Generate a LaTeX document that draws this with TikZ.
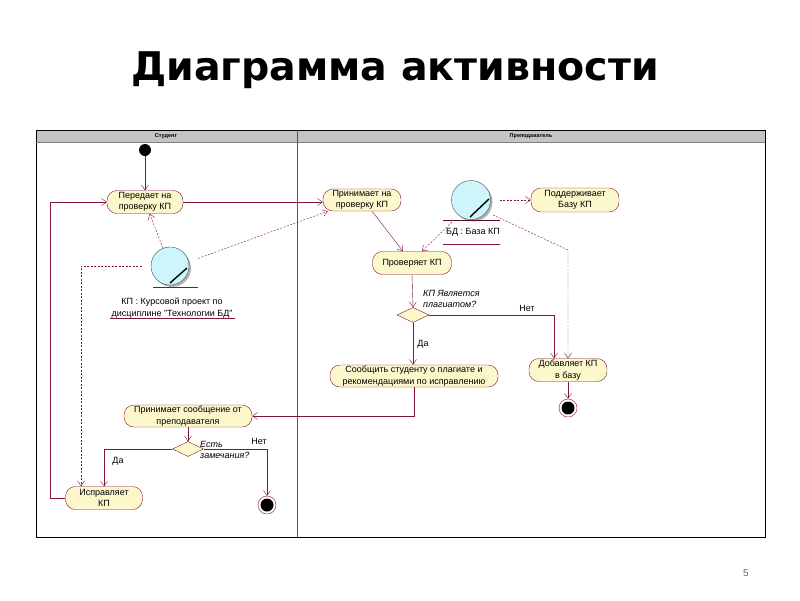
\documentclass[tikz,border=0pt]{standalone}
\usepackage{fontspec}
\setmainfont{Liberation Sans}
\newfontfamily\titlefont{DejaVu Sans}
\usetikzlibrary{arrows.meta,shapes.geometric,calc}
\definecolor{lc}{RGB}{128,20,60}
\definecolor{actfill}{RGB}{252,248,204}
\definecolor{objfill}{RGB}{204,246,250}
\definecolor{hdr}{RGB}{196,196,196}
\tikzset{
  arr/.style={draw=lc, -{Straight Barb[length=5pt,width=7pt]}},
  dasharr/.style={draw=lc, dash pattern=on 2pt off 1.5pt, -{Straight Barb[length=5pt,width=7pt]}},
  act/.style={draw=lc, fill=actfill, rounded corners=10pt, align=center, inner sep=1pt,
    font=\fontsize{9}{11.5}\selectfont, minimum height=23pt},
  dec/.style={diamond, draw=lc, fill=actfill, inner sep=0pt, minimum width=32pt, minimum height=15pt},
  startst/.style={circle, fill=black, inner sep=0pt, minimum size=12pt},
  endst/.style={circle, draw=lc, fill=white, inner sep=0pt, minimum size=18pt,
    path picture={\fill[black] (path picture bounding box.center) circle (6.5pt);}},
  lbl/.style={font=\fontsize{9}{11}\selectfont, inner sep=0pt},
  qlbl/.style={font=\fontsize{9}{11}\selectfont\itshape, inner sep=0pt, align=left, anchor=north west},
}
\begin{document}
\begin{tikzpicture}[x=1pt,y=-1pt]
\useasboundingbox (0,0) rectangle (800,600);
% title
\node[font=\titlefont\bfseries\fontsize{39.5}{44}\selectfont] (title) at (395,70) {Диаграмма активности};
\node[font=\fontsize{10}{12}\selectfont, text=black!60] (pagenum) at (746,573) {5};
% frame
\fill[hdr] (36,130) rectangle (765,142);
\draw[black, line width=0.8pt] (36,130) rectangle (765,537);
\draw[gray] (36,142) -- (765,142);
\draw[lc!60!gray] (297,130) -- (297,537);
\node[font=\bfseries\fontsize{5.5}{6}\selectfont] (hs) at (166,136) {Студент};
\node[font=\bfseries\fontsize{5.5}{6}\selectfont] (ht) at (531,136) {Преподаватель};

% activity nodes
\node[startst] (start) at (145,150) {};
\node[act, minimum width=76pt] (pass) at (145,202) {Передает на\\проверку КП};
\node[act, minimum width=78pt, minimum height=22pt] (recv) at (362,200) {Принимает на\\проверку КП};
\node[act, minimum width=88pt, minimum height=24pt] (maint) at (575,200) {Поддерживает\\Базу КП};
\node[act, minimum width=79pt] (check) at (412,263) {Проверяет КП};
\node[dec] (dec1) at (413,315) {};
\node[act, minimum width=168pt, minimum height=22pt] (notify) at (414,376) {Сообщить студенту о плагиате и\\рекомендациями по исправлению};
\node[act, minimum width=78pt] (add) at (568,370) {Добавляет КП\\в базу};
\node[endst] (end1) at (568,408) {};
\node[act, minimum width=128pt, minimum height=22pt] (rmsg) at (188,416) {Принимает сообщение от\\преподавателя};
\node[dec, minimum width=31pt] (dec2) at (188,449) {};
\node[act, minimum width=77pt] (fix) at (104,498) {Исправляет\\КП};
\node[endst] (end2) at (267,505) {};

% objects
\fill[black!30] (172,268) circle (19pt);
\node[circle, draw=black!70, fill=objfill, minimum size=38pt, inner sep=0pt] (objKP) at (170,266) {};
\draw[black, line width=1.4pt] (170,283) -- (187,268);
\draw[lc] (153,287) -- (198,287);
\node[lbl, align=center, font=\fontsize{9}{12}\selectfont] (lblKP) at (172,308) {КП : Курсовой проект по\\дисциплине "Технологии БД"};
\draw[lc] (110,318) -- (235,318);

\fill[black!30] (473,202) circle (19.5pt);
\node[circle, draw=black!70, fill=objfill, minimum size=39pt, inner sep=0pt] (objDB) at (471,200) {};
\draw[black, line width=1.4pt] (470,217) -- (489,199);
\draw[lc!70!black] (443,220) -- (500,220);
\node[lbl] (lblDB) at (473,232) {БД : База КП};
\draw[lc] (443,244) -- (500,244);

% connectors
\coordinate (lx) at (50,0);
\coordinate (bdb) at (568,250);
\draw[arr] (start) -- (pass);
\draw[arr] (pass.east) -- (recv.west |- pass.east);
\draw[arr] (fix.west) -- (fix.west -| lx) -- (lx |- pass.west) -- (pass.west);
\draw[arr] ([xshift=10pt]recv.south) -- ([xshift=-9pt]check.north);
\draw[arr] (check.south) -- (dec1.north);
\draw[arr] (dec1.east) -| ([xshift=-14pt]add.north);
\draw[arr] (dec1.south) -- (dec1.south |- notify.north);
\draw[arr] (add.south) -- (end1.north);
\draw[arr] (notify.south) |- (rmsg.east);
\draw[arr] (rmsg.south) -- (dec2.north);
\draw[arr] (dec2.west) -| (fix.north);
\draw[arr] (dec2.east) -| (end2.north);

\draw[dasharr] (objKP) -- (pass);
\draw[dasharr] ([shift={(10pt,1pt)}]objKP.20) -- ([xshift=5pt]recv.south west);
\draw[dasharr] ([xshift=-9pt]objKP.west) -| ([xshift=-23pt]fix.north);
\draw[dasharr, shorten <=9pt] (objDB.east) -- (maint.west);
\draw[dasharr] ([xshift=-19pt,yshift=-22pt]objDB.center) -- ([xshift=10pt]check.north);
\draw[dasharr] ([xshift=22pt,yshift=-15pt]objDB.center) -- (bdb) -- (bdb |- add.north);

% labels
\node[qlbl] (q1) at (423,290) {КП Является\\плагиатом?};
\node[lbl] (net1) at (527,308) {Нет};
\node[lbl] (da1) at (423,344) {Да};
\node[qlbl] (q2) at (200,441) {Есть\\замечания?};
\node[lbl] (net2) at (259,441) {Нет};
\node[lbl] (da2) at (118,461) {Да};
\end{tikzpicture}
\end{document}
